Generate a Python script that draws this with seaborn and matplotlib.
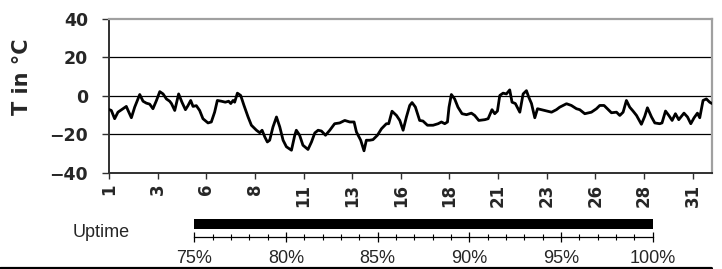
import matplotlib
matplotlib.use("Agg")
import matplotlib.pyplot as plt
import pandas as pd
import seaborn as sns
from matplotlib.lines import Line2D
from matplotlib.ticker import MultipleLocator

# temperatura po danu u mesecu (ocitano sa slike)
day = [1.00, 1.12, 1.29, 1.46, 1.72, 1.89, 1.98, 2.15, 2.32, 2.58, 2.75, 2.92,
       3.09, 3.26, 3.44, 3.61, 3.78, 3.95, 4.12, 4.21, 4.38, 4.58, 4.75, 4.93,
       5.06, 5.20, 5.32, 5.49, 5.66, 5.83, 6.09, 6.26, 6.43, 6.57, 6.78, 6.98,
       7.15, 7.26, 7.38, 7.46, 7.60, 7.77, 7.94, 8.15, 8.32, 8.58, 8.75, 8.87,
       9.01, 9.14, 9.26, 9.43, 9.61, 9.78, 9.95, 10.12, 10.38, 10.55, 10.63,
       10.80, 10.97, 11.23, 11.41, 11.58, 11.75, 11.92, 12.13, 12.35, 12.60,
       12.86, 13.12, 13.38, 13.60, 13.72, 13.94, 14.11, 14.23, 14.40, 14.57,
       14.80, 15.01, 15.26, 15.38, 15.55, 15.78, 15.95, 16.12, 16.29, 16.46,
       16.58, 16.75, 16.97, 17.14, 17.37, 17.66, 17.92, 18.09, 18.26, 18.40,
       18.48, 18.60, 18.77, 18.94, 19.15, 19.38, 19.63, 19.80, 20.01, 20.32,
       20.49, 20.69, 20.83, 20.97, 21.09, 21.26, 21.43, 21.60, 21.72, 21.89,
       22.12, 22.29, 22.46, 22.58, 22.72, 22.89, 23.03, 23.23, 23.49, 23.75,
       24.00, 24.17, 24.52, 24.77, 25.03, 25.20, 25.46, 25.80, 26.06, 26.23,
       26.45, 26.62, 26.83, 27.09, 27.26, 27.43, 27.60, 27.77, 27.94, 28.12,
       28.37, 28.54, 28.68, 28.89, 29.06, 29.31, 29.43, 29.61, 29.78, 29.95,
       30.12, 30.29, 30.56, 30.74, 30.91, 31.08, 31.25, 31.37, 31.54, 31.71,
       31.88, 32.00]
temp = [-7.1, -7.6, -11.9, -8.5, -6.7, -5.5, -7.6, -11.4, -5.9, 0.7, -2.8, -3.8,
        -4.3, -6.7, -2.4, 2.2, 1.0, -1.6, -2.8, -4.0, -7.6, 1.0, -3.3, -7.2,
        -5.1, -2.4, -5.5, -5.1, -7.6, -11.9, -14.1, -13.6, -8.5, -2.4, -2.8, -3.3,
        -2.8, -4.0, -2.4, -3.3, 1.4, 0.2, -5.0, -11.0, -15.3, -17.9, -19.2, -17.9,
        -21.4, -24.0, -23.1, -16.2, -11.0, -16.2, -23.1, -26.5, -28.3, -20.5, -17.9,
        -20.5, -25.7, -27.9, -24.0, -19.3, -17.9, -18.3, -20.5, -17.9, -14.5,
        -14.1, -12.8, -13.6, -13.6, -18.8, -23.1, -28.6, -23.1, -23.1, -22.8,
        -20.5, -17.1, -14.5, -14.5, -8.0, -10.2, -12.8, -17.9, -11.0, -5.0,
        -3.5, -5.8, -12.8, -13.1, -15.3, -15.3, -14.5, -13.6, -14.5, -13.6,
        -5.9, 0.7, -1.6, -5.9, -9.3, -9.8, -9.0, -10.2, -12.8, -12.4,
        -11.9, -7.2, -9.3, -7.9, 0.2, 1.4, 1.0, 3.1, -3.3, -4.0,
        -8.5, 1.0, 2.7, -0.7, -4.0, -11.4, -6.7, -7.2, -7.9, -8.5,
        -7.2, -5.9, -4.1, -5.0, -6.7, -7.2, -9.3, -8.5, -6.7, -5.0,
        -5.0, -6.7, -8.8, -8.5, -10.2, -8.5, -2.4, -5.9, -7.9, -10.2,
        -14.8, -10.7, -6.2, -11.0, -14.1, -14.5, -14.1, -7.9, -10.2, -12.8,
        -9.3, -12.4, -9.0, -11.0, -14.5, -11.4, -9.0, -11.4, -2.4, -1.6,
        -3.3, -4.0]

day_ticks = [1, 3.5, 6, 8.5, 11, 13.5, 16, 18.5, 21, 23.5, 26, 28.5, 31]
day_labels = ['1', '3', '6', '8', '11', '13', '16', '18', '21', '23', '26', '28', '31']
temp_ticks = [-40, -20, 0, 20, 40]
grid_levels = [-20, 0, 20]

uptime_value = 100
uptime_ticks = [75, 80, 85, 90, 95, 100]
uptime_labels = ['75%', '80%', '85%', '90%', '95%', '100%']

sns.set_style('white')
plt.rcParams['font.family'] = ['DejaVu Sans']

W, H = 722, 269
fig = plt.figure(figsize=(W / 100, H / 100), dpi=100)

# 1. glavni grafikon temperature
ax = fig.add_axes([109 / W, 1 - 172.7 / H, 603 / W, 153.7 / H])
df = pd.DataFrame({'day': day, 'temp': temp})
for v in grid_levels:
    ax.axhline(v, color='black', lw=0.9, zorder=1)
sns.lineplot(data=df, x='day', y='temp', ax=ax, color='black', linewidth=2.0, zorder=3)
ax.set_xlim(1, 32)
ax.set_ylim(-40, 40)
ax.set_yticks(temp_ticks)
ax.set_xticks(day_ticks, day_labels)
ax.set_xlabel('')
ax.set_ylabel('')

for side in ['top', 'right']:
    ax.spines[side].set_color('#a0a0a0')
    ax.spines[side].set_linewidth(1.6)
for side in ['left', 'bottom']:
    ax.spines[side].set_color('#303030')
    ax.spines[side].set_linewidth(1.4)

ax.tick_params(axis='y', left=True, direction='out', length=5.4, width=1,
               color='#303030', pad=9.7, labelsize=12.5)
ax.tick_params(axis='x', bottom=True, direction='out', length=4, width=1,
               color='#303030', pad=4, labelsize=12, labelrotation=90)
for lbl in ax.get_xticklabels() + ax.get_yticklabels():
    lbl.set_fontweight('bold')

fig.text(21.5 / W, 1 - 77 / H, 'T in °C', rotation=90, ha='center', va='center',
         fontsize=15, fontweight='bold')

# 2. traka dostupnosti (uptime)
ax2 = fig.add_axes([194.3 / W, 1 - 236.7 / H, 458.4 / W, 18.6 / H])
sns.barplot(x=[uptime_value], y=['Uptime'], orient='h', color='black',
            saturation=1, width=0.8, linewidth=0, ax=ax2)
ax2.set_xlim(75, 100)
ax2.set_ylim(0.99, -0.5)
ax2.set_xticks(uptime_ticks, uptime_labels)
ax2.xaxis.set_minor_locator(MultipleLocator(1))
ax2.set_yticks([])
ax2.set_xlabel('')
ax2.set_ylabel('')
for side in ['top', 'right', 'left']:
    ax2.spines[side].set_visible(False)
ax2.spines['bottom'].set_color('black')
ax2.spines['bottom'].set_linewidth(0.9)
ax2.tick_params(axis='x', which='major', bottom=True, direction='inout', length=7,
                width=0.9, color='black', pad=6, labelsize=13,
                labelfontfamily='Liberation Sans')
ax2.tick_params(axis='x', which='minor', bottom=True, direction='inout', length=4.5,
                width=0.8, color='black')

fig.text(72.7 / W, 1 - 236.7 / H, 'Uptime', family='Liberation Sans', fontsize=13,
         ha='left', va='baseline')

fig.add_artist(Line2D([0, 711 / W], [1 - 267.5 / H] * 2, transform=fig.transFigure,
                      color='black', lw=2.3))

fig.savefig('out.png', dpi=100)
